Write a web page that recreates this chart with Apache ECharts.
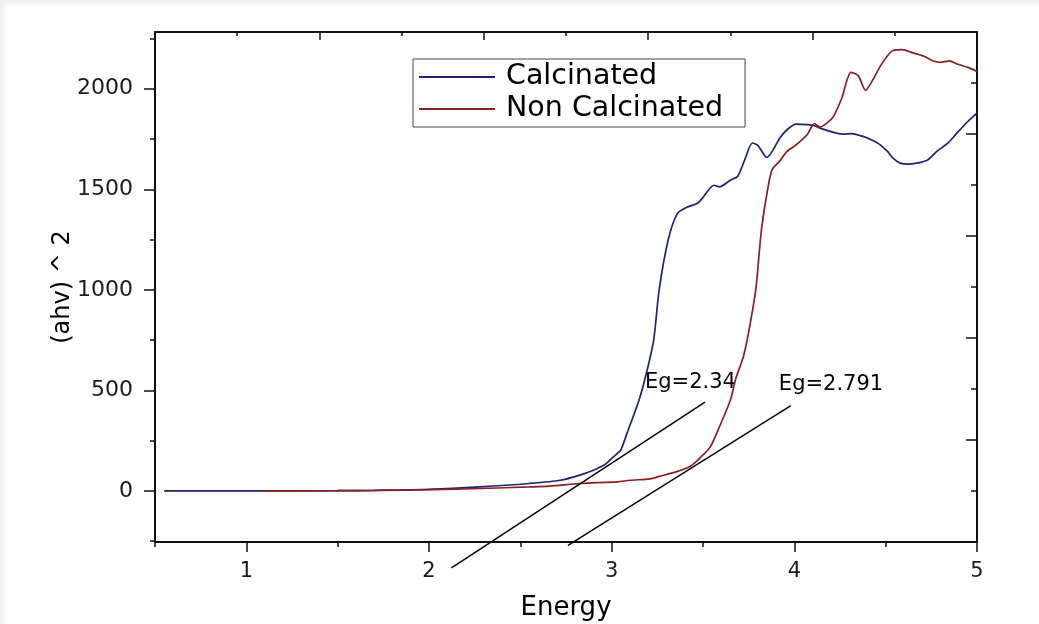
<!DOCTYPE html>
<html>
<head>
<meta charset="utf-8">
<title>Tauc plot</title>
<script src="https://cdn.jsdelivr.net/npm/echarts@6/dist/echarts.min.js"></script>
<style>
  html, body { margin: 0; padding: 0; background: #ffffff; }
  #frame {
    position: relative; width: 1039px; height: 624px; overflow: hidden;
    box-shadow: inset 5px 5px 6px -2px rgba(0, 0, 0, 0.08);
  }
  #chart { position: absolute; left: 0; top: 0; width: 1039px; height: 624px; }
</style>
</head>
<body>
<div id="frame"><div id="chart"></div></div>
<script>
// Photon energy (eV) and (ahv)^2 for the calcinated sample
const calcEnergy = [0.55, 1.0, 1.5, 1.7, 2.0, 2.28, 2.55, 2.72, 2.83, 2.9,
  2.94, 2.97, 3.03, 3.05, 3.09, 3.15, 3.19, 3.23, 3.26, 3.31,
  3.36, 3.41, 3.47, 3.5, 3.56, 3.59, 3.65, 3.69, 3.73, 3.77,
  3.8, 3.85, 3.88, 3.92, 3.96, 4.01, 4.07, 4.11, 4.14, 4.22,
  4.27, 4.31, 4.38, 4.43, 4.47, 4.51, 4.54, 4.58, 4.62, 4.67,
  4.73, 4.78, 4.84, 4.89, 4.95, 5.0];
const calcAbs = [0, 0, 1, 3, 8, 20, 37, 53, 80, 103,
  120, 136, 186, 203, 302, 452, 585, 750, 1000, 1250,
  1380, 1410, 1430, 1460, 1520, 1512, 1545, 1565, 1650, 1730,
  1718, 1658, 1690, 1754, 1796, 1824, 1821, 1816, 1804, 1782,
  1774, 1777, 1762, 1742, 1721, 1688, 1655, 1630, 1625, 1630,
  1646, 1688, 1729, 1779, 1837, 1879];

// Photon energy (eV) and (ahv)^2 for the non calcinated sample
const nonCalcEnergy = [1.09, 1.5, 1.73, 2.0, 2.28, 2.55, 2.66, 2.83, 3.03, 3.1,
  3.21, 3.26, 3.36, 3.43, 3.48, 3.54, 3.59, 3.65, 3.68, 3.72,
  3.75, 3.79, 3.82, 3.86, 3.88, 3.92, 3.96, 4.01, 4.07, 4.11,
  4.14, 4.2, 4.22, 4.26, 4.31, 4.35, 4.39, 4.43, 4.47, 4.51,
  4.54, 4.59, 4.65, 4.71, 4.76, 4.8, 4.85, 4.89, 4.95, 5.0];
const nonCalcAbs = [0, 1, 2, 6, 12, 20, 24, 37, 45, 53,
  60, 72, 97, 123, 161, 219, 319, 452, 560, 665,
  790, 1010, 1300, 1530, 1600, 1640, 1688, 1721, 1771, 1826,
  1809, 1846, 1871, 1954, 2081, 2065, 1992, 2045, 2111, 2164,
  2190, 2194, 2178, 2161, 2138, 2131, 2138, 2123, 2106, 2086];

// Band-gap extrapolation lines: intercept (Eg), slope and energy span
const bandGaps = [2.34, 2.791];
const tangentSlopes = [594, 570];
const tangentFrom = [2.123, 2.761];
const tangentTo = [3.511, 3.981];

// Axis ticks and ranges
const xMajorTicks = [1, 2, 3, 4, 5];
const xMinorTicks = [0.5, 1.5, 2.5, 3.5, 4.5];
const yMajorTicks = [0, 500, 1000, 1500, 2000];
const yMinorTicks = [-250, 250, 750, 1250, 1750, 2250];
const xMin = 0.5, xMax = 5;
const yMin = -254, yMax = 2282;

const FONT = 'DejaVu Sans';
const INK = '#000000';
const BLUE = '#1f2378';
const RED = '#8a1f22';

const zip = (xs, ys) => xs.map((x, i) => [x, ys[i]]);

// Extrapolated line meets the lower frame edge at x = Eg
const tangentLine = i => [tangentFrom[i], tangentTo[i]].map(
  x => [x, yMin + tangentSlopes[i] * (x - bandGaps[i])]);

const frameLine = { show: true, onZero: false, lineStyle: { color: '#111', width: 2 } };
const tickStyle = { color: '#111', width: 1.5 };

const chart = echarts.init(document.getElementById('chart'), null, { renderer: 'canvas' });

const option = {
  animation: false,
  grid: { left: 155, right: 62, top: 32, bottom: 82, containLabel: false, outerBoundsMode: 'none' },
  legend: {
    data: ['Calcinated', 'Non Calcinated'],
    orient: 'vertical',
    left: 413, top: 59,
    padding: [2, 22, 2, 6],
    itemGap: 0,
    itemWidth: 76, itemHeight: 2,
    icon: 'rect',
    backgroundColor: '#ffffff',
    borderColor: '#444444', borderWidth: 1,
    textStyle: { fontFamily: FONT, fontSize: 28.5, lineHeight: 32, color: INK, padding: [0, 0, 0, 6] }
  },
  xAxis: [
    {
      type: 'value', position: 'bottom', min: xMin, max: xMax,
      axisLine: frameLine,
      axisTick: { show: true, customValues: xMajorTicks, length: 10, lineStyle: tickStyle },
      axisLabel: { customValues: xMajorTicks, margin: 19, fontSize: 21, fontFamily: FONT, color: '#1a1a1a',
        formatter: v => String(v) },
      splitLine: { show: false },
      name: 'Energy', nameLocation: 'middle', nameGap: 53, nameMoveOverlap: false,
      nameTextStyle: { fontFamily: FONT, fontSize: 26, color: INK }
    },
    {
      type: 'value', position: 'bottom', min: xMin, max: xMax,
      axisLine: { show: false, onZero: false },
      axisTick: { show: true, customValues: xMinorTicks, length: 5, lineStyle: tickStyle },
      axisLabel: { show: false },
      splitLine: { show: false }
    },
    {
      type: 'value', position: 'top', min: 0, max: 10, interval: 2,
      axisLine: frameLine,
      axisTick: { show: true, inside: true, length: 8, lineStyle: tickStyle },
      minorTick: { show: true, splitNumber: 2, length: 4, lineStyle: tickStyle },
      axisLabel: { show: false },
      splitLine: { show: false }, minorSplitLine: { show: false }
    }
  ],
  yAxis: [
    {
      type: 'value', position: 'left', min: yMin, max: yMax,
      axisLine: frameLine,
      axisTick: { show: true, customValues: yMajorTicks, length: 11, lineStyle: tickStyle },
      axisLabel: { customValues: yMajorTicks, margin: 22, fontSize: 22, fontFamily: FONT, color: '#1a1a1a',
        formatter: v => String(v) },
      splitLine: { show: false },
      name: '(ahv) ^ 2', nameLocation: 'middle', nameGap: 80, nameMoveOverlap: false,
      nameTextStyle: { fontFamily: FONT, fontSize: 24, color: INK }
    },
    {
      type: 'value', position: 'left', min: yMin, max: yMax,
      axisLine: { show: false, onZero: false },
      axisTick: { show: true, customValues: yMinorTicks, length: 5, lineStyle: tickStyle },
      axisLabel: { show: false },
      splitLine: { show: false }
    },
    {
      type: 'value', position: 'right', min: 0, max: 10, interval: 2,
      axisLine: frameLine,
      axisTick: { show: true, inside: true, length: 11, lineStyle: tickStyle },
      minorTick: { show: true, splitNumber: 2, length: 6, lineStyle: tickStyle },
      axisLabel: { show: false },
      splitLine: { show: false }, minorSplitLine: { show: false }
    }
  ],
  series: [
    {
      name: 'Calcinated', type: 'line', xAxisIndex: 0, yAxisIndex: 0,
      data: zip(calcEnergy, calcAbs),
      symbol: 'none', showSymbol: false,
      smooth: 0.25,
      lineStyle: { color: BLUE, width: 1.7 }, itemStyle: { color: BLUE }
    },
    {
      name: 'Non Calcinated', type: 'line', xAxisIndex: 0, yAxisIndex: 0,
      data: zip(nonCalcEnergy, nonCalcAbs),
      symbol: 'none', showSymbol: false,
      smooth: 0.25,
      lineStyle: { color: RED, width: 1.7 }, itemStyle: { color: RED }
    },
    ...bandGaps.map((eg, i) => ({
      name: 'Eg fit ' + (i + 1), type: 'line', xAxisIndex: 0, yAxisIndex: 0,
      data: tangentLine(i), clip: false, silent: true,
      symbol: 'none', showSymbol: false,
      lineStyle: { color: INK, width: 1.4 }, itemStyle: { color: INK }
    })),
    {
      name: 'Eg labels', type: 'scatter', xAxisIndex: 0, yAxisIndex: 0,
      symbolSize: 0, silent: true,
      itemStyle: { color: INK, opacity: 1 },
      data: bandGaps.map((eg, i) => ({
        value: tangentLine(i)[1],
        label: { offset: i === 0 ? [-60, -20] : [-12, -21] }
      })),
      label: {
        show: true, position: 'right', distance: 0,
        fontFamily: FONT, fontSize: 21, color: INK, opacity: 1,
        textBorderWidth: 0,
        formatter: p => 'Eg=' + bandGaps[p.dataIndex]
      }
    }
  ]
};

chart.setOption(option);
</script>
</body>
</html>
